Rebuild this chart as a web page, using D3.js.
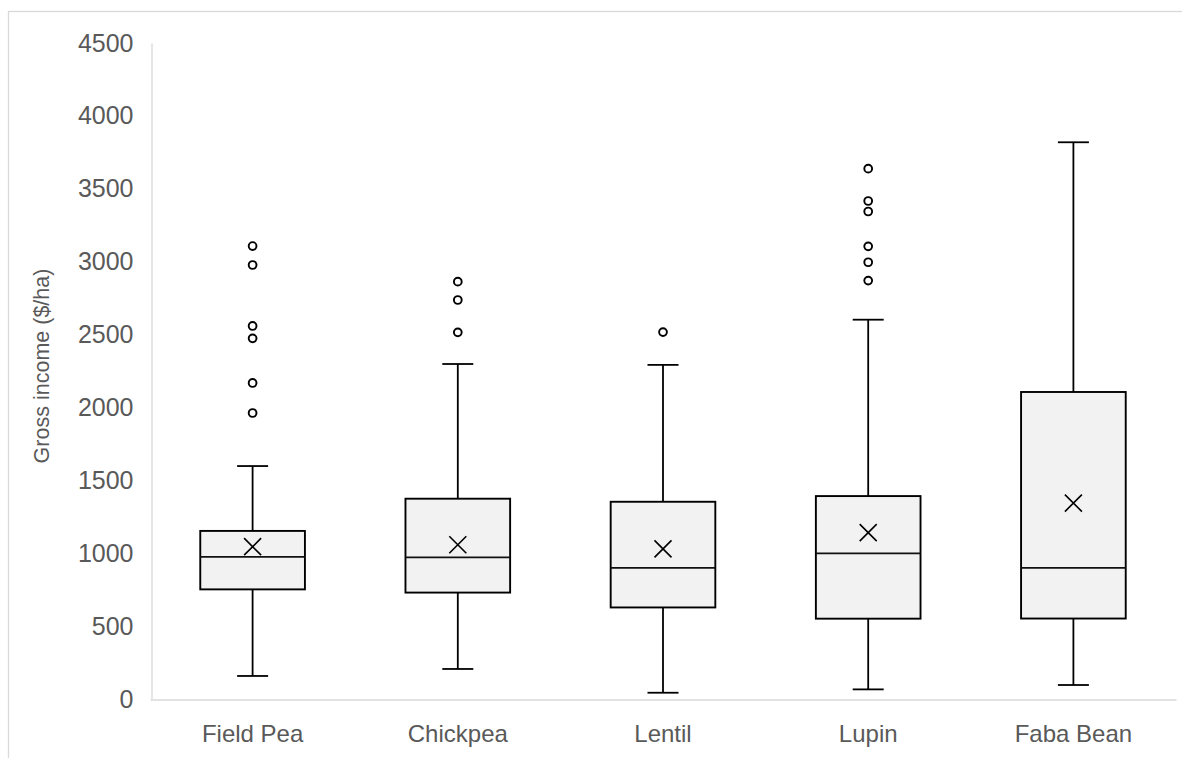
<!DOCTYPE html>
<html>
<head>
<meta charset="utf-8">
<script src="https://cdn.jsdelivr.net/npm/d3@7"></script>
<style>
  html, body { margin: 0; padding: 0; background: #fff; }
  svg { display: block; }
</style>
</head>
<body>
<svg id="chart" width="1182" height="758"></svg>
<script>
const categories = ["Field Pea", "Chickpea", "Lentil", "Lupin", "Faba Bean"];
const lowerWhisker = [158, 206, 43, 66, 96];
const q1 = [752, 730, 628, 551, 552];
const median = [975, 972, 899, 999, 899];
const q3 = [1153, 1374, 1353, 1392, 2106];
const upperWhisker = [1598, 2298, 2292, 2602, 3819];
const mean = [1045, 1058, 1030, 1141, 1344];
const outliers = [
  [3107, 2977, 2559, 2474, 2168, 1962],
  [2863, 2737, 2515],
  [2517],
  [3638, 3416, 3344, 3105, 2996, 2870],
  []
];
const yTicks = [0, 500, 1000, 1500, 2000, 2500, 3000, 3500, 4000, 4500];
const yTitle = "Gross income ($/ha)";

const rows = categories.map((c, i) => ({
  cat: c, lo: lowerWhisker[i], q1: q1[i], med: median[i], q3: q3[i],
  hi: upperWhisker[i], mean: mean[i], out: outliers[i]
}));

const svg = d3.select("#chart");
const font = "'Liberation Sans', Arial, sans-serif";
const textColor = "#595959";
const gridColor = "#d9d9d9";

// outer chart border
svg.append("rect")
  .attr("x", 8.5).attr("y", 11.5)
  .attr("width", 1300).attr("height", 900)
  .attr("fill", "none").attr("stroke", gridColor).attr("stroke-width", 1.3);

const x = d3.scaleBand().domain(categories).range([150, 1176]).padding(0);
const y = d3.scaleLinear().domain([0, 4500]).range([699, 43]);

// y axis
const yAxis = svg.append("g").attr("transform", "translate(151.5,0)")
  .call(d3.axisLeft(y).tickValues(yTicks).tickSize(0).tickPadding(18).tickFormat(d3.format("d")));
yAxis.select(".domain").attr("stroke", gridColor).attr("stroke-width", 1.3);
yAxis.selectAll("text").attr("fill", textColor).style("font-family", font).style("font-size", "25px");

// x axis
const xAxis = svg.append("g").attr("transform", "translate(0,699.5)")
  .call(d3.axisBottom(x).tickSize(0).tickPadding(25));
xAxis.select(".domain").attr("stroke", gridColor).attr("stroke-width", 1.3);
xAxis.selectAll("text").attr("fill", textColor).style("font-family", font).style("font-size", "24px");

// y title
svg.append("text")
  .attr("transform", "translate(49,366) rotate(-90)")
  .attr("text-anchor", "middle")
  .attr("fill", textColor)
  .style("font-family", font).style("font-size", "21.5px")
  .text(yTitle);

const boxW = x.bandwidth() * 0.51;
const capW = 31;
const g = svg.append("g");

const box = g.selectAll("g.box").data(rows).join("g").attr("class", "box")
  .attr("transform", d => `translate(${x(d.cat) + x.bandwidth() / 2},0)`);

// whiskers
box.append("line").attr("x1", 0).attr("x2", 0)
  .attr("y1", d => y(d.q3)).attr("y2", d => y(d.hi))
  .attr("stroke", "#000").attr("stroke-width", 1.8);
box.append("line").attr("x1", 0).attr("x2", 0)
  .attr("y1", d => y(d.q1)).attr("y2", d => y(d.lo))
  .attr("stroke", "#000").attr("stroke-width", 1.8);
box.append("line").attr("x1", -capW / 2).attr("x2", capW / 2)
  .attr("y1", d => y(d.hi)).attr("y2", d => y(d.hi))
  .attr("stroke", "#000").attr("stroke-width", 1.8);
box.append("line").attr("x1", -capW / 2).attr("x2", capW / 2)
  .attr("y1", d => y(d.lo)).attr("y2", d => y(d.lo))
  .attr("stroke", "#000").attr("stroke-width", 1.8);

// boxes
box.append("rect")
  .attr("x", -boxW / 2).attr("width", boxW)
  .attr("y", d => y(d.q3)).attr("height", d => y(d.q1) - y(d.q3))
  .attr("fill", "#f2f2f2").attr("stroke", "#000").attr("stroke-width", 1.9);

// median
box.append("line").attr("x1", -boxW / 2).attr("x2", boxW / 2)
  .attr("y1", d => y(d.med)).attr("y2", d => y(d.med))
  .attr("stroke", "#111").attr("stroke-width", 1.7);

// mean marker X
const mx = 8.5;
box.append("path")
  .attr("d", d => `M${-mx},${y(d.mean) - mx}L${mx},${y(d.mean) + mx}M${-mx},${y(d.mean) + mx}L${mx},${y(d.mean) - mx}`)
  .attr("stroke", "#000").attr("stroke-width", 1.6).attr("fill", "none");

// outliers
box.selectAll("circle").data(d => d.out).join("circle")
  .attr("cx", 0).attr("cy", v => y(v)).attr("r", 3.9)
  .attr("fill", "#fff").attr("stroke", "#000").attr("stroke-width", 1.9);
</script>
</body>
</html>
